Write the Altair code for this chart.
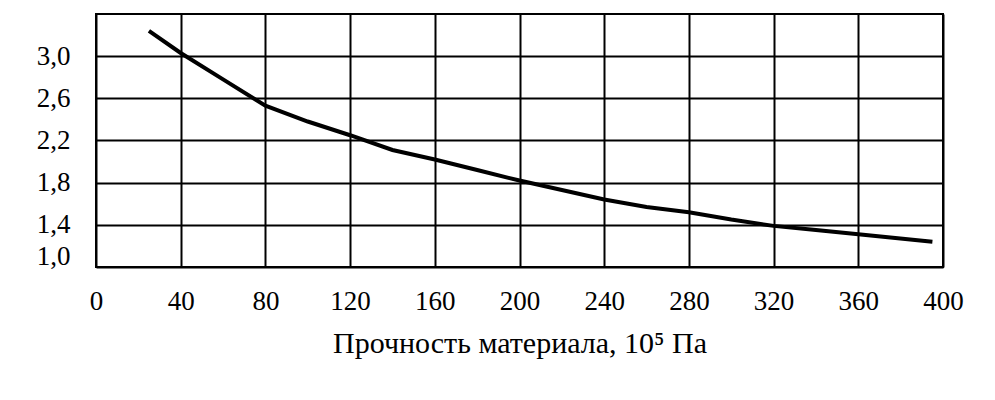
import altair as alt
import pandas as pd

# Data
strength = [25, 40, 60, 80, 100, 120, 140, 160, 180, 200, 220, 240, 260, 280, 300, 320, 340, 360, 395]
value = [3.24, 3.03, 2.78, 2.53, 2.38, 2.25, 2.11, 2.02, 1.92, 1.82, 1.73, 1.64, 1.57, 1.52, 1.45, 1.39, 1.35, 1.31, 1.24]

x_ticks = [0, 40, 80, 120, 160, 200, 240, 280, 320, 360, 400]
y_ticks = [1.0, 1.4, 1.8, 2.2, 2.6, 3.0]

df = pd.DataFrame({"x": strength, "y": value})

FONT = "Liberation Serif"

chart = alt.Chart(df).mark_line(color="black", strokeWidth=4).encode(
    x=alt.X(
        "x:Q",
        scale=alt.Scale(domain=[0, 400], nice=False, zero=False),
        axis=alt.Axis(
            values=x_ticks,
            title="Прочность материала, 10⁵ Па",
            titleFont=FONT,
            titleFontSize=30,
            titleFontWeight="normal",
            titleColor="black",
            titlePadding=14,
            labelFont=FONT,
            labelFontSize=27,
            labelColor="black",
            labelPadding=21,
            labelFlush=False,
            ticks=False,
            tickSize=0,
            domain=False,
            grid=True,
            gridColor="black",
            gridWidth=2,
            gridOpacity=1,
        ),
    ),
    y=alt.Y(
        "y:Q",
        scale=alt.Scale(domain=[1.0, 3.4], nice=False, zero=False),
        axis=alt.Axis(
            values=y_ticks,
            title=None,
            labelExpr="replace(format(datum.value, '.1f'), '.', ',')",
            labelFont=FONT,
            labelFontSize=27,
            labelColor="black",
            labelPadding=26,
            labelBaseline="middle",
            labelOffset={"condition": {"test": "datum.value == 1", "value": -11}, "value": 0},
            labelFlush=False,
            ticks=False,
            tickSize=0,
            domain=False,
            grid=True,
            gridColor="black",
            gridWidth=2,
            gridOpacity=1,
        ),
    ),
).properties(
    width=847,
    height=253,
    autosize=alt.AutoSizeParams(type="none"),
    padding={"left": 88, "top": 6, "right": 40, "bottom": 125},
    background="white",
).configure_view(
    stroke="black",
    strokeWidth=2,
)

chart.save("out.html", embed_options={"renderer": "svg", "actions": False})
